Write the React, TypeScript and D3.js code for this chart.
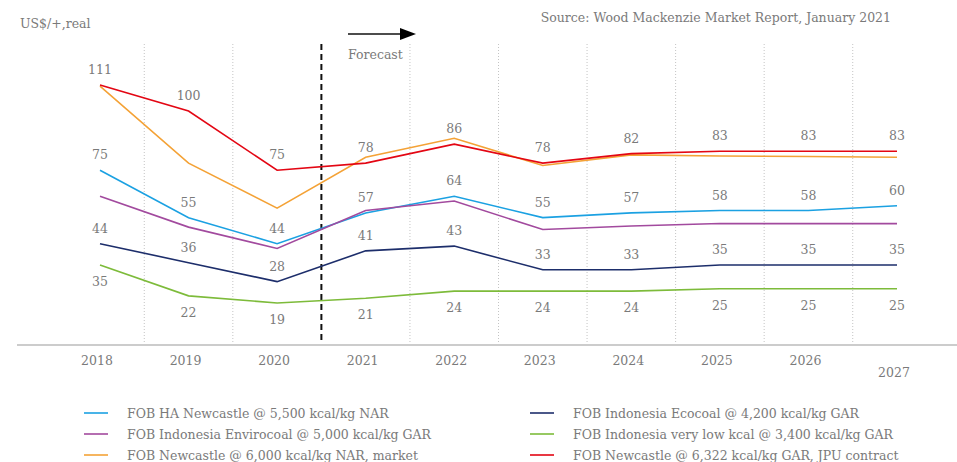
import React from "react";
import * as d3 from "d3";

const years = ["2018", "2019", "2020", "2021", "2022", "2023", "2024", "2025", "2026", "2027"];
const haNewcastle = [75, 55, 44, 57, 64, 55, 57, 58, 58, 60];
const envirocoal = [64, 51, 42, 58, 62, 50, 51.5, 52.5, 52.5, 52.5];
const newcastleMarket = [110.5, 78, 59, 80.5, 88.5, 77, 81.5, 81, 80.8, 80.5];
const ecocoal = [44, 36, 28, 41, 43, 33, 33, 35, 35, 35];
const veryLow = [35, 22, 19, 21, 24, 24, 24, 25, 25, 25];
const jpuContract = [111, 100, 75, 78, 86, 78, 82, 83, 83, 83];

const seriesNames = [
  "FOB HA Newcastle @ 5,500 kcal/kg NAR",
  "FOB Indonesia Envirocoal @ 5,000 kcal/kg GAR",
  "FOB Newcastle @ 6,000 kcal/kg NAR, market",
  "FOB Indonesia Ecocoal @ 4,200 kcal/kg GAR",
  "FOB Indonesia very low kcal @ 3,400 kcal/kg GAR",
  "FOB Newcastle @ 6,322 kcal/kg GAR, JPU contract",
];
const seriesValues = [haNewcastle, envirocoal, newcastleMarket, ecocoal, veryLow, jpuContract];
const seriesColors = ["#1ba1e2", "#a24a9e", "#f4a236", "#1d2e6b", "#7dbb3a", "#e30613"];
// label placement per series: "above", "below" or none
const labelMode = ["above", null, null, "above", "below", "above"];

const W = 957;
const H = 462;
const FONT = "'DejaVu Serif', serif";
const TXT = "#7a7a7a";

export default function App() {
  const x = d3.scalePoint<string>().domain(years).range([100, 897]);
  const step = x.step();
  const y = d3.scaleLinear().domain([0, 120]).range([348, 63.6]);
  const line = d3
    .line<number>()
    .x((_, i) => x(years[i]) as number)
    .y((v) => y(v));
  const axisY = 345;
  const gridTop = 44;
  const boundaries = years.slice(0, -1).map((yr) => (x(yr) as number) + step / 2);

  return (
    <svg width={W} height={H} style={{ position: "absolute", left: 0, top: 0 }} fontFamily={FONT}>
      <rect width={W} height={H} fill="#fff" />
      <text x={20} y={28} fontSize={12.5} fill={TXT}>US$/+,real</text>
      <text x={891} y={22} fontSize={12.5} fill={TXT} textAnchor="end">
        Source: Wood Mackenzie Market Report, January 2021
      </text>
      {boundaries.map((bx, i) =>
        i === 2 ? null : (
          <line key={i} x1={bx} x2={bx} y1={gridTop} y2={axisY} stroke="#c4c4c4" strokeWidth={1} strokeDasharray="1,2" />
        )
      )}
      <line x1={boundaries[2]} x2={boundaries[2]} y1={gridTop} y2={axisY} stroke="#111" strokeWidth={2} strokeDasharray="6,4" />
      <line x1={348} x2={402} y1={34} y2={34} stroke="#111" strokeWidth={1.5} />
      <path d="M400,28 L416,34 L400,40 Z" fill="#000" />
      <text x={348} y={59} fontSize={12.5} fill={TXT}>Forecast</text>
      <line x1={17} x2={957} y1={axisY} y2={axisY} stroke="#cccccc" strokeWidth={2} />
      {years.map((yr, i) => (
        <text
          key={yr}
          x={(x(yr) as number) - 3}
          y={i === years.length - 1 ? 377 : 365}
          fontSize={12.5}
          fill={TXT}
          textAnchor="middle"
        >
          {yr}
        </text>
      ))}
      {seriesValues.map((vals, s) => (
        <path key={s} d={line(vals) || ""} fill="none" stroke={seriesColors[s]} strokeWidth={1.6} />
      ))}
      {seriesValues.map((vals, s) =>
        labelMode[s]
          ? vals.map((v, i) => (
              <text
                key={`${s}-${i}`}
                x={x(years[i]) as number}
                y={labelMode[s] === "above" ? y(v) - 11 : y(v) + 21}
                fontSize={12.5}
                fill={TXT}
                textAnchor="middle"
              >
                {v}
              </text>
            ))
          : null
      )}
      {seriesNames.map((name, s) => {
        const col = s < 3 ? 0 : 1;
        const row = s % 3;
        const lx = col === 0 ? 84 : 530;
        const ly = 413 + row * 21;
        return (
          <g key={name}>
            <line x1={lx} x2={lx + 24} y1={ly} y2={ly} stroke={seriesColors[s]} strokeWidth={1.6} />
            <text x={lx + 43} y={ly + 4.5} fontSize={12.5} fill={TXT}>
              {name}
            </text>
          </g>
        );
      })}
    </svg>
  );
}
